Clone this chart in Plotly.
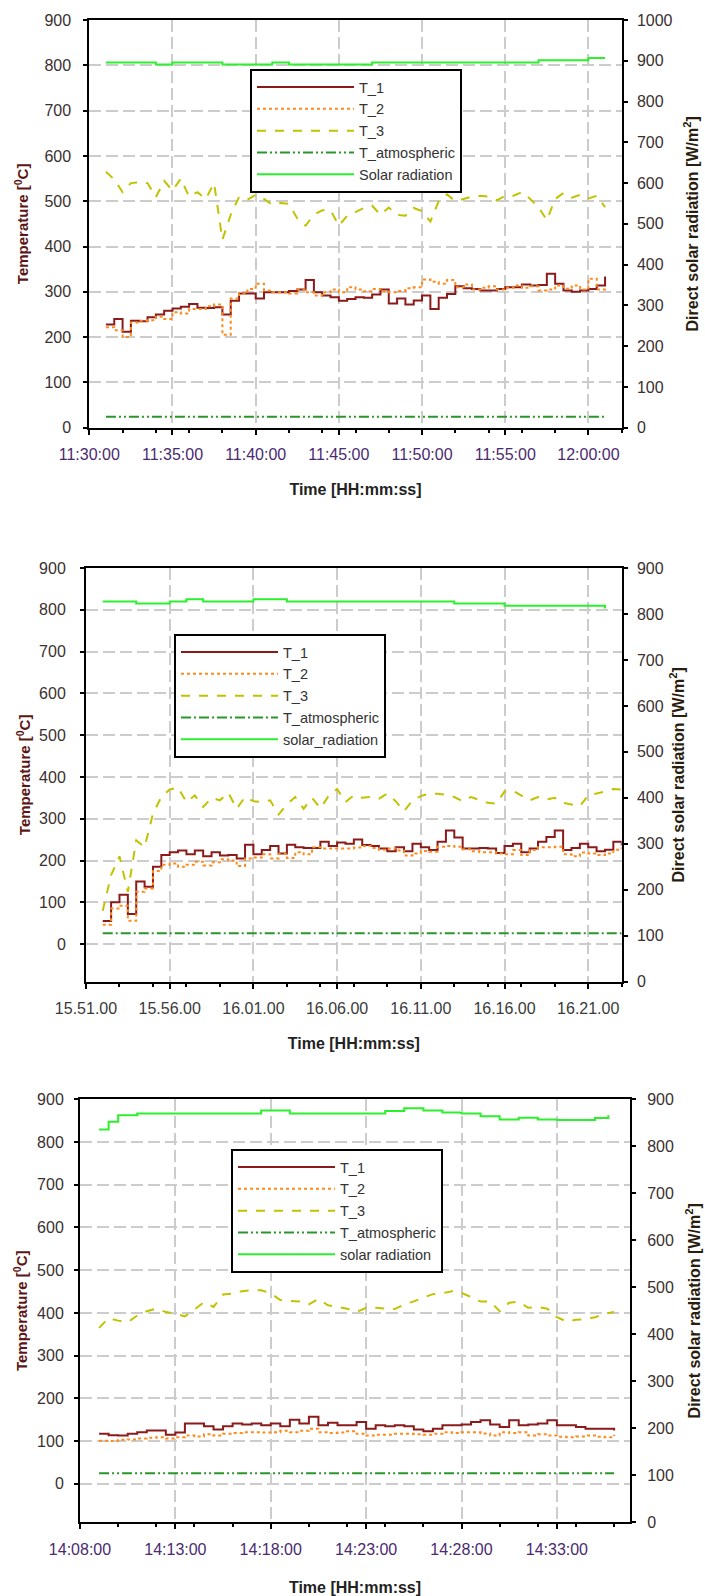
import pandas as pd
import plotly.graph_objects as go

FONT = "Arial, 'Liberation Sans', sans-serif"
DAY = "2021-06-01"

# ---------------- Panel 1 (11:30 - 12:02) ----------------
p1_range = ["11:30:00", "12:02:00"]
p1_temp_start = "11:31:00"          # temperatures logged every 30 s
p1_T1 = [228, 240, 212, 236, 235, 244, 250, 258, 263, 267,
         273, 265, 264, 266, 250, 280, 296, 296, 285, 299,
         299, 299, 302, 305, 326, 299, 292, 288, 280, 284,
         288, 287, 294, 305, 274, 285, 272, 281, 292, 262,
         287, 295, 312, 308, 306, 303, 303, 306, 310, 310,
         316, 314, 315, 340, 318, 303, 300, 303, 306, 314, 334]
p1_T2 = [222, 215, 200, 232, 236, 237, 245, 240, 255, 252,
         262, 262, 268, 272, 205, 285, 296, 306, 318, 303,
         299, 299, 296, 305, 299, 292, 299, 305, 299, 310,
         305, 301, 306, 301, 299, 302, 308, 310, 327, 322,
         318, 326, 310, 316, 305, 309, 312, 305, 309, 314,
         309, 312, 303, 305, 314, 307, 314, 305, 329, 305, 310]
p1_T3 = [565, 548, 520, 540, 542, 540, 509, 545, 523, 550,
         510, 520, 505, 540, 415, 470, 509, 503, 514, 505,
         492, 496, 494, 462, 446, 470, 480, 480, 446, 468,
         476, 485, 490, 470, 486, 470, 468, 485, 478, 455,
         500, 515, 500, 505, 510, 512, 510, 502, 512, 512,
         520, 505, 487, 458, 505, 518, 508, 514, 506, 512, 487]
p1_atm_min = [1, 2, 3, 4, 5, 6, 7, 8, 9, 10, 11, 12, 13, 14, 15, 16,
              17, 18, 19, 20, 21, 22, 23, 24, 25, 26, 27, 28, 29, 30, 31]
p1_atm = [24, 24, 24, 24, 24, 24, 24, 24, 24, 24, 24, 24, 24, 24, 24, 24,
          24, 24, 24, 24, 24, 24, 24, 24, 24, 24, 24, 24, 24, 24, 24]
p1_sol_min = [1, 2, 3, 4, 5, 6, 7, 8, 9, 10, 11, 12, 13, 14, 15, 16,
              17, 18, 19, 20, 21, 22, 23, 24, 25, 26, 27, 28, 29, 30, 31]
p1_sol = [896, 896, 896, 891, 896, 896, 896, 891, 891, 891, 896, 891, 891, 891, 891, 891,
          896, 896, 896, 896, 896, 896, 896, 896, 896, 896, 901, 901, 901, 907, 907]
p1_names = ["T_1", "T_2", "T_3", "T_atmospheric", "Solar radiation"]

# ---------------- Panel 2 (15:51 - 16:23) ----------------
p2_range = ["15:51:00", "16:23:00"]
p2_temp_start = "15:52:00"
p2_T1 = [55, 100, 118, 72, 150, 137, 185, 213, 220, 224,
         215, 224, 210, 220, 212, 213, 205, 238, 215, 225,
         235, 217, 238, 232, 230, 230, 245, 235, 243, 240,
         250, 237, 235, 229, 222, 232, 222, 240, 232, 225,
         245, 272, 255, 229, 229, 230, 229, 218, 235, 240,
         220, 229, 245, 256, 272, 225, 230, 240, 232, 222,
         226, 245, 236]
p2_T2 = [46, 85, 92, 56, 125, 133, 175, 190, 193, 185,
         190, 197, 188, 196, 203, 200, 187, 205, 207, 215,
         205, 216, 206, 220, 215, 232, 229, 229, 229, 229,
         231, 235, 230, 226, 229, 224, 212, 217, 223, 221,
         233, 235, 233, 227, 222, 220, 220, 217, 215, 225,
         213, 225, 232, 232, 233, 215, 210, 219, 217, 213,
         217, 226, 232]
p2_T3 = [80, 165, 210, 125, 248, 232, 312, 352, 370, 375,
         340, 356, 328, 350, 344, 362, 324, 352, 342, 340,
         344, 310, 334, 352, 324, 350, 325, 355, 371, 340,
         356, 350, 352, 348, 360, 342, 318, 344, 354, 360,
         360, 357, 352, 342, 352, 345, 338, 336, 365, 367,
         355, 344, 352, 346, 350, 338, 334, 330, 356, 360,
         365, 371, 370]
p2_atm_min = [1, 2, 3, 4, 5, 6, 7, 8, 9, 10, 11, 12, 13, 14, 15, 16,
              17, 18, 19, 20, 21, 22, 23, 24, 25, 26, 27, 28, 29, 30, 31, 32]
p2_atm = [26, 26, 26, 26, 26, 26, 26, 26, 26, 26, 26, 26, 26, 26, 26, 26,
          26, 26, 26, 26, 26, 26, 26, 26, 26, 26, 26, 26, 26, 26, 26, 26]
p2_sol_min = [1, 2, 3, 4, 5, 6, 7, 8, 9, 10, 11, 12, 13, 14, 15, 16,
              17, 18, 19, 20, 21, 22, 23, 24, 25, 26, 27, 28, 29, 30, 31]
p2_sol = [827, 827, 823, 823, 827, 832, 827, 827, 827, 832, 832, 827, 827, 827, 827, 827,
          827, 827, 827, 827, 827, 823, 823, 823, 818, 818, 818, 818, 818, 818, 812]
p2_names = ["T_1", "T_2", "T_3", "T_atmospheric", "solar_radiation"]

# ---------------- Panel 3 (14:08 - 14:37) ----------------
p3_range = ["14:08:00", "14:36:50"]
p3_temp_start = "14:09:00"
p3_T1 = [117, 114, 113, 117, 121, 125, 125, 115, 120, 141,
         141, 135, 127, 135, 141, 139, 141, 137, 141, 135,
         150, 141, 157, 137, 143, 137, 137, 145, 129, 137,
         135, 137, 135, 127, 123, 129, 137, 137, 139, 145,
         149, 139, 133, 149, 137, 139, 141, 149, 137, 137,
         133, 129, 129, 129, 125]
p3_T2 = [101, 100, 103, 104, 106, 108, 109, 106, 109, 113,
         111, 116, 113, 117, 119, 121, 121, 120, 121, 124,
         121, 124, 129, 121, 119, 120, 123, 117, 113, 115,
         115, 117, 117, 116, 115, 117, 121, 119, 121, 121,
         118, 113, 121, 119, 121, 113, 116, 113, 110, 109,
         111, 113, 110, 109, 115]
p3_T3 = [365, 388, 382, 378, 394, 404, 410, 402, 398, 392,
         408, 425, 414, 443, 445, 451, 453, 453, 446, 430,
         428, 427, 420, 433, 418, 414, 410, 402, 412, 412,
         410, 409, 420, 427, 436, 444, 446, 451, 447, 437,
         427, 427, 404, 424, 426, 412, 414, 410, 390, 380,
         384, 385, 390, 398, 402]
p3_atm_min = [1, 2, 3, 4, 5, 6, 7, 8, 9, 10, 11, 12, 13, 14, 15, 16,
              17, 18, 19, 20, 21, 22, 23, 24, 25, 26, 27, 28]
p3_atm = [25, 25, 25, 25, 25, 25, 25, 25, 25, 25, 25, 25, 25, 25, 25, 25,
          25, 25, 25, 25, 25, 25, 25, 25, 25, 25, 25, 25]
p3_sol_min = [1, 1.5, 2, 3, 4, 5, 6, 7, 8, 9, 9.5, 10, 11, 12, 13, 14, 15, 16, 17, 18,
              19, 20, 21, 22, 23, 24, 25, 26, 27, 27.7]
p3_sol = [836, 852, 866, 870, 870, 870, 870, 870, 870, 870, 876, 876, 870, 870, 870, 870, 870, 875, 881, 876,
          872, 870, 864, 857, 861, 857, 856, 856, 860, 866]
p3_names = ["T_1", "T_2", "T_3", "T_atmospheric", "solar radiation"]

TEMP_STEP = "30s"

# colours / styles
C_T1, C_T2, C_T3 = "#8b1a1a", "#ff8a1c", "#c2c200"
C_ATM, C_SOL = "#2a962a", "#2cf02c"
GRID = "#cccccc"

W, H = 705, 1596


def ts(t):
    return pd.Timestamp(f"{DAY} {t}")


def after(base, minutes):
    return [ts(base) + pd.Timedelta(minutes=m) for m in minutes]


fig = go.Figure()

panels = [
    dict(T1=p1_T1, T2=p1_T2, T3=p1_T3, start=p1_temp_start, am=p1_atm_min, a=p1_atm,
         sm=p1_sol_min, s=p1_sol, rng=p1_range, names=p1_names,
         geo=(89.3, 621.7, 20, 427.7), yl=[0, 900], yr=[0, 1000], fmt="%H:%M:%S",
         atmdash="10px,3px,2px,3px,2px,3px", leg=(250, 69), xtc="#4a2a70",
         lst=12, rst=15, xst=22, ltso=9, rtso=6),
    dict(T1=p2_T1, T2=p2_T2, T3=p2_T3, start=p2_temp_start, am=p2_atm_min, a=p2_atm,
         sm=p2_sol_min, s=p2_sol, rng=p2_range, names=p2_names,
         geo=(86, 621.7, 568, 981.7), yl=[-90, 900], yr=[0, 900], fmt="%H.%M.%S",
         atmdash="10px,3px,2px,3px", leg=(174, 634), xtc="#3a3a3a",
         lst=5, rst=10, xst=22, ltso=11, rtso=6),
    dict(T1=p3_T1, T2=p3_T2, T3=p3_T3, start=p3_temp_start, am=p3_atm_min, a=p3_atm,
         sm=p3_sol_min, s=p3_sol, rng=p3_range, names=p3_names,
         geo=(80, 630, 1099.3, 1522.3), yl=[-90, 900], yr=[0, 900], fmt="%H:%M:%S",
         atmdash="10px,3px,2px,3px,2px,3px", leg=(231, 1149), xtc="#4a2a70",
         lst=6, rst=16, xst=25, ltso=7, rtso=8),
]

layout = dict(
    width=W, height=H, autosize=False,
    margin=dict(l=0, r=0, t=0, b=0, pad=0, autoexpand=False),
    paper_bgcolor="white", plot_bgcolor="white",
    font=dict(family=FONT, size=14, color="#333333"),
    showlegend=True,
)

for i, p in enumerate(panels):
    n = i + 1
    xa = "x" if n == 1 else f"x{n}"
    ya_l = "y" if n == 1 else f"y{2 * n - 1}"
    ya_r = f"y{2 * n}"
    leg = "legend" if n == 1 else f"legend{n}"
    base = p["rng"][0]
    tt = pd.date_range(ts(p["start"]), periods=len(p["T1"]), freq=TEMP_STEP)

    specs = [
        (p["names"][0], tt, p["T1"], C_T1, "solid", ya_l, "hv"),
        (p["names"][1], tt, p["T2"], C_T2, "dot", ya_l, "hv"),
        (p["names"][2], tt, p["T3"], C_T3, "dash", ya_l, "linear"),
        (p["names"][3], after(base, p["am"]), p["a"], C_ATM, p["atmdash"], ya_l, "linear"),
        (p["names"][4], after(base, p["sm"]), p["s"], C_SOL, "solid", ya_r, "hv"),
    ]
    for name, xs, ys, col, dash, yax, shape in specs:
        fig.add_trace(go.Scatter(
            x=xs, y=ys, name=name, mode="lines",
            line=dict(color=col, width=2, dash=dash, shape=shape),
            xaxis=xa, yaxis=yax, legend=leg, hoverinfo="skip"))

    l, r, t, b = p["geo"]
    xdom = [l / W, r / W]
    ydom = [1 - b / H, 1 - t / H]

    xkey = "xaxis" if n == 1 else f"xaxis{n}"
    ylkey = "yaxis" if n == 1 else f"yaxis{2 * n - 1}"
    yrkey = f"yaxis{2 * n}"

    layout[xkey] = dict(
        domain=xdom, anchor=ya_l, type="date", automargin=False,
        range=[ts(p["rng"][0]), ts(p["rng"][1])],
        tick0=ts(p["rng"][0]), dtick=300000, tickformat=p["fmt"],
        ticks="outside", ticklen=5, tickwidth=1.5, tickcolor="black",
        minor=dict(dtick=120000, tick0=ts(p["rng"][0]), ticks="outside",
                   ticklen=3, tickwidth=1.5, tickcolor="black", showgrid=False),
        showline=True, linecolor="black", linewidth=2, mirror=True,
        showgrid=True, gridcolor=GRID, gridwidth=1.5, griddash="12px,5px",
        zeroline=False,
        tickfont=dict(size=16, color=p["xtc"], family=FONT),
        ticklabelstandoff=6,
        title=dict(text="<b>Time [HH:mm:ss]</b>", font=dict(size=16, color="#222222"),
                   standoff=p["xst"]),
    )
    layout[ylkey] = dict(
        domain=ydom, anchor=xa, range=p["yl"], automargin=False,
        tickmode="linear", tick0=0, dtick=100,
        ticks="outside", ticklen=4, tickwidth=1.5, tickcolor="black",
        showline=True, linecolor="black", linewidth=2,
        showgrid=True, gridcolor=GRID, gridwidth=1.5, griddash="12px,5px",
        zeroline=False,
        tickfont=dict(size=16, color="#3a3030", family=FONT),
        ticklabelstandoff=p["ltso"],
        title=dict(text="<b>Temperature [<sup>0</sup>C]</b>",
                   font=dict(size=15, color="#5c1616"), standoff=p["lst"]),
    )
    layout[yrkey] = dict(
        overlaying=ya_l, side="right", anchor=xa, range=p["yr"], automargin=False,
        tickmode="linear", tick0=0, dtick=100,
        ticks="outside", ticklen=4, tickwidth=1.5, tickcolor="black",
        showline=True, linecolor="black", linewidth=2,
        showgrid=False, zeroline=False,
        tickfont=dict(size=16, color="#3a3030", family=FONT),
        ticklabelstandoff=p["rtso"],
        title=dict(text="<b>Direct solar radiation [W/m<sup>2</sup>]</b>",
                   font=dict(size=16, color="#2b1d0e"), standoff=p["rst"]),
    )
    lx, ly = p["leg"]
    layout[leg] = dict(
        x=lx / W, y=1 - ly / H, xanchor="left", yanchor="top",
        xref="paper", yref="paper",
        bgcolor="white", bordercolor="black", borderwidth=2,
        font=dict(size=14.5, color="#333333", family=FONT),
        itemwidth=97, tracegroupgap=0,
        entrywidth=106, entrywidthmode="pixels",
    )

fig.update_layout(**layout)
fig.write_html(
    "out.html",
    post_script="document.body.style.margin='0px';document.body.style.overflow='hidden';",
)
